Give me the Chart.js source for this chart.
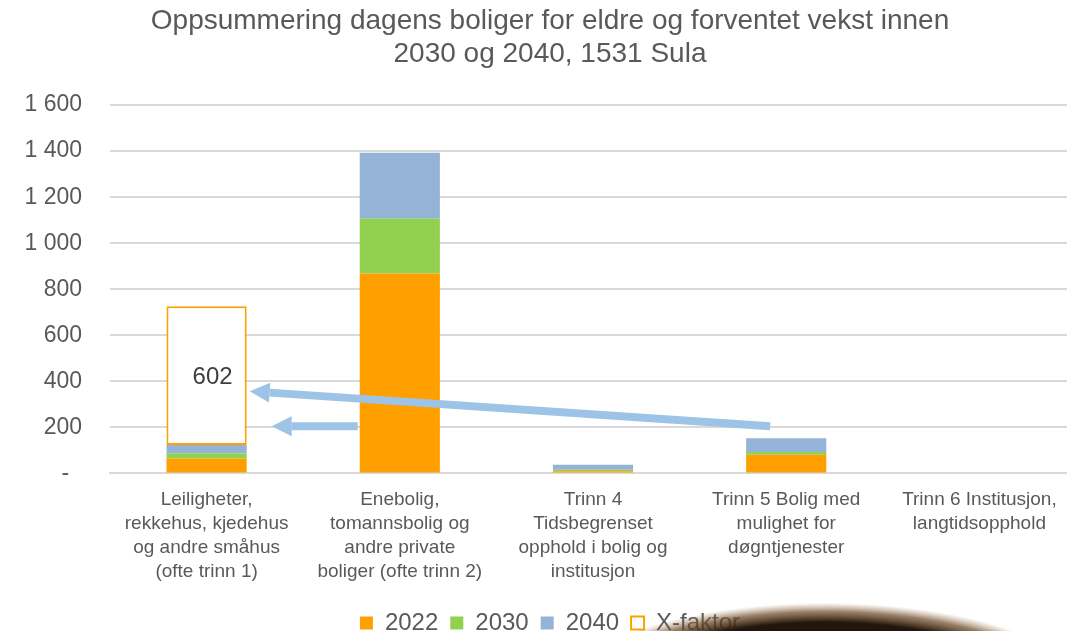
<!DOCTYPE html>
<html>
<head>
<meta charset="utf-8">
<script src="https://cdn.jsdelivr.net/npm/chart.js@4.4.1/dist/chart.umd.min.js"></script>
<style>
  html, body { margin: 0; padding: 0; background: #fff; overflow: hidden; }
  #wrap { width: 1076px; height: 645px; position: relative; }
</style>
</head>
<body>
<div id="wrap"><canvas id="chart"></canvas></div>
<script>
const categories = [
  ['Leiligheter,', 'rekkehus, kjedehus', 'og andre småhus', '(ofte trinn 1)'],
  ['Enebolig,', 'tomannsbolig og', 'andre private', 'boliger (ofte trinn 2)'],
  ['Trinn 4', 'Tidsbegrenset', 'opphold i bolig og', 'institusjon'],
  ['Trinn 5 Bolig med', 'mulighet for', 'døgntjenester'],
  ['Trinn 6 Institusjon,', 'langtidsopphold']
];
const v2022 = [65, 868, 10, 81, 0];
const v2030 = [22, 238, 6, 12, 0];
const v2040 = [37, 287, 22, 60, 0];
const xFaktor = [602, 0, 0, 0, 0];
const yTicks = [0, 200, 400, 600, 800, 1000, 1200, 1400, 1600];

const textColor = '#595959';
const fontFamily = '"Liberation Sans", Arial, sans-serif';

function fmt(v) {
  if (v === 0) return '-  ';
  return String(v).replace(/\B(?=(\d{3})+(?!\d))/g, ' ');
}

function drawArrow(ctx, x1, y1, x2, y2) {
  const ang = Math.atan2(y2 - y1, x2 - x1);
  const head = 20, half = 10;
  const bx = x2 - head * Math.cos(ang), by = y2 - head * Math.sin(ang);
  ctx.save();
  ctx.strokeStyle = '#9DC3E6';
  ctx.fillStyle = '#9DC3E6';
  ctx.lineWidth = 8;
  ctx.beginPath();
  ctx.moveTo(x1, y1);
  ctx.lineTo(bx, by);
  ctx.stroke();
  ctx.beginPath();
  ctx.moveTo(x2, y2);
  ctx.lineTo(bx + half * Math.sin(ang), by - half * Math.cos(ang));
  ctx.lineTo(bx - half * Math.sin(ang), by + half * Math.cos(ang));
  ctx.closePath();
  ctx.fill();
  ctx.restore();
}

const extras = {
  id: 'extras',
  afterDatasetsDraw(chart) {
    const ctx = chart.ctx;
    const xs = chart.scales.x, ys = chart.scales.y;
    const bar1 = chart.getDatasetMeta(0).data[0];
    const bar2 = chart.getDatasetMeta(0).data[1];
    const right1 = bar1.x + bar1.width / 2;
    const left2 = bar2.x - bar2.width / 2;

    // arrows
    drawArrow(ctx, xs.getPixelForValue(3) - 16, ys.getPixelForValue(205), right1 + 3, ys.getPixelForValue(357));
    drawArrow(ctx, left2 - 2, ys.getPixelForValue(205), right1 + 25, ys.getPixelForValue(205));

    // X-faktor label
    const xf = chart.getDatasetMeta(3).data[0];
    ctx.save();
    ctx.font = '24px ' + fontFamily;
    ctx.fillStyle = '#404040';
    ctx.textAlign = 'center';
    ctx.textBaseline = 'middle';
    ctx.fillText(String(xFaktor[0]), xf.x + 6, (xf.y + xf.base) / 2 + 2);
    ctx.restore();
  },
  afterDraw(chart) {
    // dark shadow at the bottom of the photo
    const ctx = chart.ctx;
    ctx.save();
    ctx.translate(825, 700);
    ctx.scale(1, 0.36);
    const g = ctx.createRadialGradient(0, 0, 0, 0, 0, 270);
    g.addColorStop(0, 'rgba(20,14,8,1)');
    g.addColorStop(0.8, 'rgba(35,22,10,1)');
    g.addColorStop(0.91, 'rgba(110,75,40,0.7)');
    g.addColorStop(1, 'rgba(160,120,80,0)');
    ctx.fillStyle = g;
    ctx.beginPath();
    ctx.arc(0, 0, 270, 0, Math.PI * 2);
    ctx.fill();
    ctx.restore();
  }
};

new Chart(document.getElementById('chart'), {
  type: 'bar',
  data: {
    labels: categories,
    datasets: [
      { label: '2022', data: v2022, backgroundColor: '#FFA000', borderWidth: 0 },
      { label: '2030', data: v2030, backgroundColor: '#92D050', borderWidth: 0 },
      { label: '2040', data: v2040, backgroundColor: '#95B3D7', borderWidth: 0 },
      { label: 'X-faktor', data: xFaktor, backgroundColor: '#FFFFFF', borderColor: '#FFA000', borderWidth: 2, borderSkipped: false }
    ]
  },
  options: {
    responsive: true,
    maintainAspectRatio: false,
    animation: false,
    layout: { padding: { left: 24, right: 0, top: 0, bottom: 0 } },
    datasets: { bar: { barPercentage: 0.83, categoryPercentage: 0.5 } },
    scales: {
      x: {
        stacked: true,
        grid: { display: false },
        border: { color: '#D9D9D9', width: 2 },
        afterFit(scale) { scale.height += 9; },
        ticks: {
          color: textColor,
          font: { size: 19, family: fontFamily, lineHeight: 1.27 },
          padding: 6,
          maxRotation: 0,
          autoSkip: false
        }
      },
      y: {
        stacked: true,
        min: 0,
        max: 1600,
        afterBuildTicks(scale) { scale.ticks = yTicks.map(v => ({ value: v })); },
        afterFit(scale) { scale.width = 86; },
        grid: { color: '#D9D9D9', lineWidth: 2, drawTicks: false },
        border: { display: false },
        ticks: {
          color: textColor,
          font: { size: 23, family: fontFamily },
          padding: 28,
          callback: v => fmt(v)
        }
      }
    },
    plugins: {
      title: {
        display: true,
        text: ['Oppsummering dagens boliger for eldre og forventet vekst innen', '2030 og 2040, 1531 Sula'],
        color: textColor,
        font: { size: 28, weight: 'normal', family: fontFamily, lineHeight: 1.18 },
        padding: { top: 5, bottom: 34 }
      },
      legend: {
        position: 'bottom',
        labels: {
          color: textColor,
          font: { size: 24, family: fontFamily },
          boxWidth: 13,
          boxHeight: 13,
          padding: 12
        }
      },
      tooltip: { enabled: false }
    }
  },
  plugins: [extras]
});
</script>
</body>
</html>
